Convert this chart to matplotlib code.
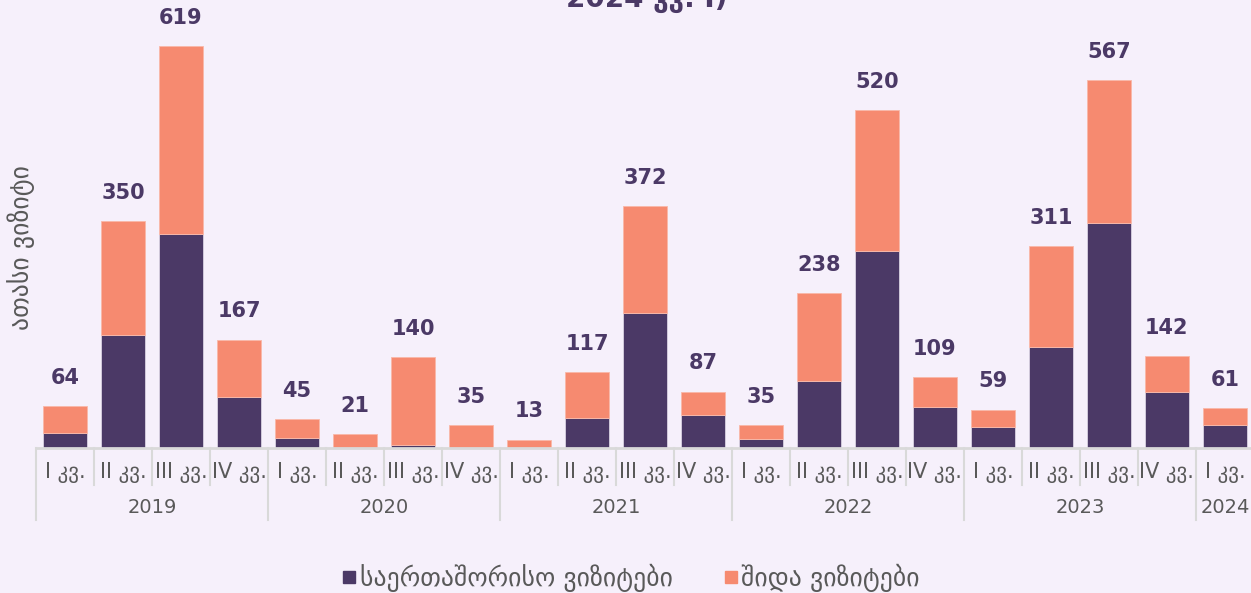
import matplotlib
matplotlib.use('Agg')
import matplotlib.pyplot as plt
from matplotlib.transforms import blended_transform_factory
from matplotlib.lines import Line2D

years = ['2019', '2020', '2021', '2022', '2023', '2024']
year_counts = [4, 4, 4, 4, 4, 1]
quarters = ['I კვ.', 'II კვ.', 'III კვ.', 'IV კვ.'] * 5 + ['I კვ.']
totals = [64, 350, 619, 167, 45, 21, 140, 35, 13, 117, 372, 87,
          35, 238, 520, 109, 59, 311, 567, 142, 61]
international = [23, 174, 330, 79, 16, 0, 4, 0, 0, 46, 208, 51,
                 14, 103, 303, 63, 32, 156, 347, 86, 35]
domestic = [t - i for t, i in zip(totals, international)]

series_names = ['საერთაშორისო ვიზიტები', 'შიდა ვიზიტები']
title_text = '2024 კვ. I)'
ylabel_text = 'ათასი ვიზიტი'

DARK = '#4B3966'
SALMON = '#F68A70'
BG = '#F6F0FB'
GRAY = '#595959'
LINE = '#D9D9D9'

plt.rcParams['font.family'] = ['DejaVu Sans']

W, H = 1251, 593
fig = plt.figure(figsize=(W / 100, H / 100), dpi=100)
fig.patch.set_facecolor(BG)
ax = fig.add_axes([36 / W, 145 / H, 1 - 36 / W, 448 / H])
ax.set_facecolor(BG)

x = list(range(len(totals)))
ax.bar(x, international, width=0.76, color=DARK, edgecolor=BG, linewidth=0.4, zorder=2)
ax.bar(x, domestic, width=0.76, bottom=international, color=SALMON, edgecolor='#F9B8A8',
       linewidth=0.6, zorder=2)

for xi, t in zip(x, totals):
    ax.annotate(str(t), (xi, t), xytext=(0, 16), textcoords='offset points',
                ha='center', va='baseline', fontsize=15, fontweight='bold',
                color=DARK, annotation_clip=False)

ax.set_xlim(-0.5, 20.45)
ax.set_ylim(0, 690)
for s in ax.spines.values():
    s.set_visible(False)
ax.set_xticks([])
ax.set_yticks([])
ax.axhline(0, color=LINE, linewidth=2, zorder=3, clip_on=False)

trans = blended_transform_factory(ax.transData, ax.transAxes)
for xi, q in zip(x, quarters):
    ax.text(xi, -0.0558, q, transform=trans, ha='center', va='center',
            fontsize=15, color=GRAY, clip_on=False)

# separators
year_starts = []
pos = -0.5
for c in year_counts:
    year_starts.append(pos)
    pos += c
for k in range(len(totals)):
    b = k - 0.5
    is_year = b in year_starts
    ax.plot([b, b], [0, -0.161 if is_year else -0.0826], transform=trans,
            color=LINE, linewidth=1.5, clip_on=False, zorder=1)

start = 0
for yname, c in zip(years, year_counts):
    center = start + (c - 1) / 2
    ax.text(center, -0.1317, yname, transform=trans, ha='center', va='center',
            fontsize=14, color=GRAY, clip_on=False)
    start += c

fig.text(647 / W, 1 - 7 / H, title_text, ha='center', va='baseline',
         fontsize=20, fontweight='bold', color=DARK)
fig.text(21 / W, 1 - 247 / H, ylabel_text, rotation=90, ha='center', va='center',
         fontsize=18.5, color=GRAY)

handles = [Line2D([], [], marker='s', linestyle='none', markersize=9, color=DARK),
           Line2D([], [], marker='s', linestyle='none', markersize=9, color=SALMON)]
fig.legend(handles, series_names, loc='center', bbox_to_anchor=(630 / W, 1 - 578 / H),
           ncol=2, frameon=False, fontsize=18.5, handletextpad=0.05,
           columnspacing=1.9, labelcolor=GRAY, handlelength=0.7)

fig.savefig('out.png', dpi=100, facecolor=BG)
